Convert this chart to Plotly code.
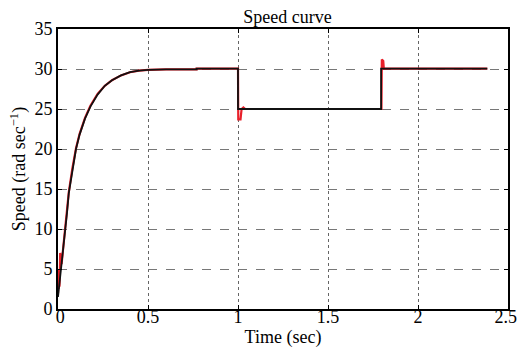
import plotly.graph_objects as go

# Reference (black) speed curve
t_ref = [0.0, 0.01, 0.02, 0.03, 0.04, 0.05, 0.06, 0.08, 0.10, 0.12, 0.15, 0.18, 0.22,
         0.26, 0.30, 0.35, 0.40, 0.45, 0.50, 0.60, 0.77, 0.77, 1.0, 1.0, 1.795, 1.795, 2.385]
w_ref = [1.5, 3.5, 5.5, 7.8, 10.0, 12.0, 14.5, 17.5, 20.0, 21.8, 23.8, 25.3, 26.8,
         27.9, 28.6, 29.2, 29.6, 29.8, 29.9, 29.95, 29.95, 30.05, 30.05, 25.0, 25.0, 30.05, 30.05]

# Actual (red) speed curve
t_act = [0.0, 0.002, 0.004, 0.006, 0.008, 0.010, 0.012, 0.02, 0.03, 0.04, 0.05, 0.06, 0.08,
         0.10, 0.12, 0.15, 0.18, 0.22, 0.26, 0.30, 0.35, 0.40, 0.45, 0.50, 0.60, 0.77, 0.77,
         1.0, 1.0015, 1.014, 1.02, 1.03, 1.04, 1.797, 1.799, 1.807, 1.81, 2.385]
w_act = [2.0, 5.0, 2.5, 4.5, 2.8, 4.0, 7.0, 5.6, 7.9, 10.1, 12.1, 14.6, 17.6,
         20.1, 21.9, 23.9, 25.4, 26.9, 27.9, 28.6, 29.2, 29.6, 29.8, 29.9, 29.95, 29.95, 30.05,
         30.05, 23.7, 23.7, 25.0, 25.2, 25.0, 25.0, 31.2, 31.0, 30.05, 30.05]

x_ticks = [0, 0.5, 1, 1.5, 2, 2.5]
x_ticklabels = ["\u00a00", "0.5", "1", "1.5", "2", "2.5\u00a0"]
y_ticks = [0, 5, 10, 15, 20, 25, 30, 35]

font = "Liberation Serif, Times New Roman, serif"

fig = go.Figure()
fig.add_trace(go.Scatter(x=t_act, y=w_act, mode="lines",
                         line=dict(color="#e8202a", width=2.2), showlegend=False))
fig.add_trace(go.Scatter(x=t_ref, y=w_ref, mode="lines",
                         line=dict(color="#111111", width=1.8), showlegend=False))

fig.update_layout(
    width=518, height=352,
    margin=dict(l=58, r=10, t=29, b=43, autoexpand=False),
    paper_bgcolor="white", plot_bgcolor="white",
    font=dict(family=font, size=18, color="black"),
    title=dict(text="Speed curve", x=0.51, xref="paper", xanchor="center",
               y=1 - 17 / 352, yref="container", yanchor="middle",
               font=dict(family=font, size=18, color="black")),
)
fig.update_xaxes(
    range=[0, 2.5], tickvals=x_ticks, ticktext=x_ticklabels, automargin=False,
    showline=True, linecolor="black", linewidth=2, mirror="allticks",
    ticks="inside", ticklen=4, tickcolor="black",
    ticklabelstandoff=-10, ticklabeloverflow="allow",
    showgrid=True, gridcolor="#666666", griddash="dot", gridwidth=1,
    zeroline=False,
    title=dict(text="Time (sec)", standoff=0, font=dict(family=font, size=18)),
    tickfont=dict(family=font, size=18),
)
fig.update_yaxes(
    range=[0, 35], tickvals=y_ticks, automargin=False,
    showline=True, linecolor="black", linewidth=2, mirror="allticks",
    ticks="inside", ticklen=4, tickcolor="black",
    showgrid=True, gridcolor="#777777", griddash="dash", gridwidth=1,
    zeroline=False,
    title=dict(text="Speed (rad sec<sup>\u22121</sup>)", standoff=4, font=dict(family=font, size=18)),
    tickfont=dict(family=font, size=18),
)

fig.write_html(
    "out.html",
    config={"displayModeBar": False},
    post_script="document.body.style.margin='0';document.body.style.overflow='hidden';",
)
